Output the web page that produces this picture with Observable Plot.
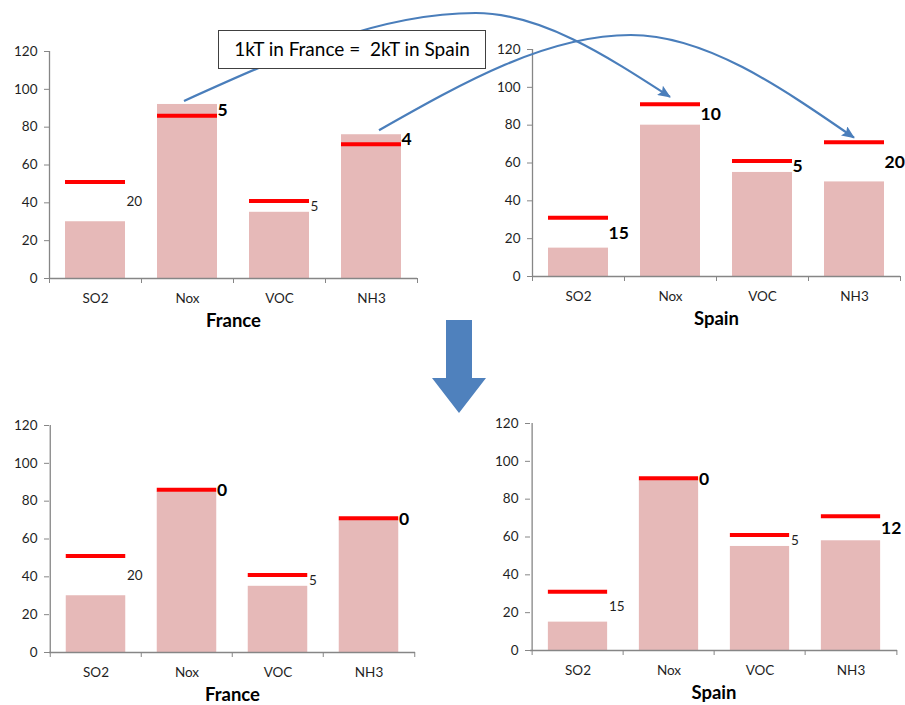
<!DOCTYPE html>
<html>
<head>
<meta charset="utf-8">
<script src="https://cdn.jsdelivr.net/npm/d3@7"></script>
<script src="https://cdn.jsdelivr.net/npm/@observablehq/plot@0.6"></script>
<style>
  body { margin: 0; background: #fff; }
  #page { position: relative; width: 905px; height: 705px; overflow: hidden; font-family: Lato, sans-serif; }
  #page > svg { position: absolute; }
</style>
</head>
<body>
<div id="page"></div>
<script>
// Pollutant categories and tick values shared by all four panels
const pollutants = ["SO2", "Nox", "VOC", "NH3"];
const yTicks = [0, 20, 40, 60, 80, 100, 120];

// Targets (red lines)
const franceTargets = [51, 86, 41, 71];
const spainTargets = [31, 91, 61, 71];

// Before the trade: emissions and abatement cost labels
const franceBefore = [30, 92, 35, 76];
const franceBeforeCosts = ["20", "5", "5", "4"];
const franceBeforeBold = [false, true, false, true];
const spainBefore = [15, 80, 55, 50];
const spainBeforeCosts = ["15", "10", "5", "20"];
const spainBeforeBold = [true, true, true, true];

// After the trade
const franceAfter = [30, 85, 35, 70];
const franceAfterCosts = ["20", "0", "5", "0"];
const franceAfterBold = [false, true, false, true];
const spainAfter = [15, 90, 55, 58];
const spainAfterCosts = ["15", "0", "5", "12"];
const spainAfterBold = [false, true, false, true];

const exchangeNote = "1kT in France =  2kT in Spain";

const BAR = "#E6B9B8", TARGET = "#FF0000", AXIS = "#868686", INK = "#1f1f1f", ARROW = "#4A7EBB";
const page = document.getElementById("page");

function panel({title, values, targets, costs, bold, left, top, width, marginLeft, marginRight}) {
  const marginTop = 11, plotH = 227, marginBottom = 53;
  const rows = pollutants.map((p, i) => ({
    p, v: values[i], t: targets[i], c: costs[i], b: bold[i], mid: (values[i] + targets[i]) / 2
  }));
  const step = (width - marginLeft - marginRight) / pollutants.length;
  const half = step / 2;
  const inset = (step - 60) / 2;
  const last = pollutants[pollutants.length - 1];
  const chart = Plot.plot({
    width, height: marginTop + plotH + marginBottom,
    marginLeft, marginRight, marginTop, marginBottom,
    style: {fontFamily: "Lato, sans-serif", fontSize: "13px", color: INK, overflow: "visible", background: "transparent"},
    x: {domain: pollutants, padding: 0, axis: null},
    y: {domain: [0, 120], axis: null},
    marks: [
      Plot.barY(rows, {x: "p", y: "v", fill: BAR, insetLeft: inset, insetRight: inset}),
      Plot.tickY(rows, {x: "p", y: "t", stroke: TARGET, strokeWidth: 4, insetLeft: inset, insetRight: inset}),
      Plot.ruleY([0], {stroke: AXIS, strokeWidth: 1.3}),
      Plot.ruleX([pollutants[0]], {y1: 0, y2: 120, dx: -half, stroke: AXIS, strokeWidth: 1.3}),
      Plot.ruleX(pollutants, {y1: 0, y2: 0, dx: -half, insetBottom: -5, stroke: AXIS}),
      Plot.ruleX([last], {y1: 0, y2: 0, dx: half, insetBottom: -5, stroke: AXIS}),
      Plot.axisY(yTicks, {tickSize: 5, tickPadding: 7, stroke: AXIS, fill: INK, label: null, fontSize: 13.5}),
      Plot.axisX({tickSize: 0, tickPadding: 15, label: null, fill: INK, fontSize: 13.5}),
      Plot.text(rows.filter(d => !d.b), {x: "p", y: "mid", text: "c", dx: 31, textAnchor: "start", fontSize: 13.5, fill: INK}),
      Plot.text(rows.filter(d => d.b), {x: "p", y: "mid", text: "c", dx: 30, textAnchor: "start", fontSize: 17.5, fontWeight: "bold", fill: "#000"}),
      Plot.text([title], {text: d => d, frameAnchor: "bottom", lineAnchor: "middle", dy: 43, fontSize: 18.5, fontWeight: "bold", fill: "#000"})
    ]
  });
  chart.style.left = left + "px";
  chart.style.top = top + "px";
  page.appendChild(chart);
  const xs = chart.scale("x"), ys = chart.scale("y");
  return {
    cx: p => left + xs.apply(p) + xs.bandwidth / 2,
    y: v => top + ys.apply(v)
  };
}

const tlF = panel({title: "France", values: franceBefore, targets: franceTargets, costs: franceBeforeCosts, bold: franceBeforeBold,
  left: 0, top: 40, width: 450, marginLeft: 49, marginRight: 33});
const trS = panel({title: "Spain", values: spainBefore, targets: spainTargets, costs: spainBeforeCosts, bold: spainBeforeBold,
  left: 483, top: 38, width: 422, marginLeft: 49, marginRight: 5});
panel({title: "France", values: franceAfter, targets: franceTargets, costs: franceAfterCosts, bold: franceAfterBold,
  left: 0, top: 414, width: 450, marginLeft: 49, marginRight: 35});
panel({title: "Spain", values: spainAfter, targets: spainTargets, costs: spainAfterCosts, bold: spainAfterBold,
  left: 481, top: 412, width: 422, marginLeft: 49, marginRight: 6});

// Annotation layer: curved exchange arrows, note box and the big down arrow
const overlay = d3.select(page).append("svg")
  .attr("width", 905).attr("height", 705)
  .style("left", "0px").style("top", "0px").style("pointer-events", "none");

overlay.append("defs").append("marker")
  .attr("id", "head").attr("markerUnits", "userSpaceOnUse")
  .attr("markerWidth", 13).attr("markerHeight", 11)
  .attr("refX", 12).attr("refY", 5.5).attr("orient", "auto")
  .append("path").attr("d", "M0,0 L13,5.5 L0,11 L2.5,5.5 Z").attr("fill", ARROW);

const curve = d3.line().curve(d3.curveMonotoneX);
function exchangeArc(from, to, apexT, apexY) {
  const apex = [from[0] + apexT * (to[0] - from[0]), apexY];
  overlay.append("path")
    .attr("d", curve([from, apex, to]))
    .attr("fill", "none").attr("stroke", ARROW).attr("stroke-width", 2.2)
    .attr("marker-end", "url(#head)");
}

const fNox = pollutants.indexOf("Nox"), fNh3 = pollutants.indexOf("NH3");
exchangeArc([tlF.cx("Nox") - 3, tlF.y(franceBefore[fNox]) - 3], [trS.cx("Nox"), trS.y(spainTargets[fNox]) - 7], 0.6, 13);
exchangeArc([tlF.cx("NH3") + 8, tlF.y(franceBefore[fNh3]) - 4], [trS.cx("NH3"), trS.y(spainTargets[fNh3]) - 4], 0.53, 35);

// Note box sits over the first arc
const box = overlay.append("g").attr("transform", "translate(218.5,30.5)");
box.append("rect").attr("width", 267).attr("height", 38).attr("fill", "#fff").attr("stroke", "#404040").attr("stroke-width", 1);
box.append("text").attr("x", 133.5).attr("y", 19).attr("dy", "0.35em")
  .attr("text-anchor", "middle").attr("font-family", "Lato, sans-serif").attr("font-size", 19)
  .style("white-space", "pre").attr("fill", "#000").text(exchangeNote);

// Block arrow between the two rows
const ax = 459, aTop = 320;
overlay.append("path")
  .attr("d", `M${ax - 13},${aTop} H${ax + 13} V${aTop + 58} H${ax + 27} L${ax},${aTop + 93} L${ax - 27},${aTop + 58} H${ax - 13} Z`)
  .attr("fill", "#4F81BD");
</script>
</body>
</html>
